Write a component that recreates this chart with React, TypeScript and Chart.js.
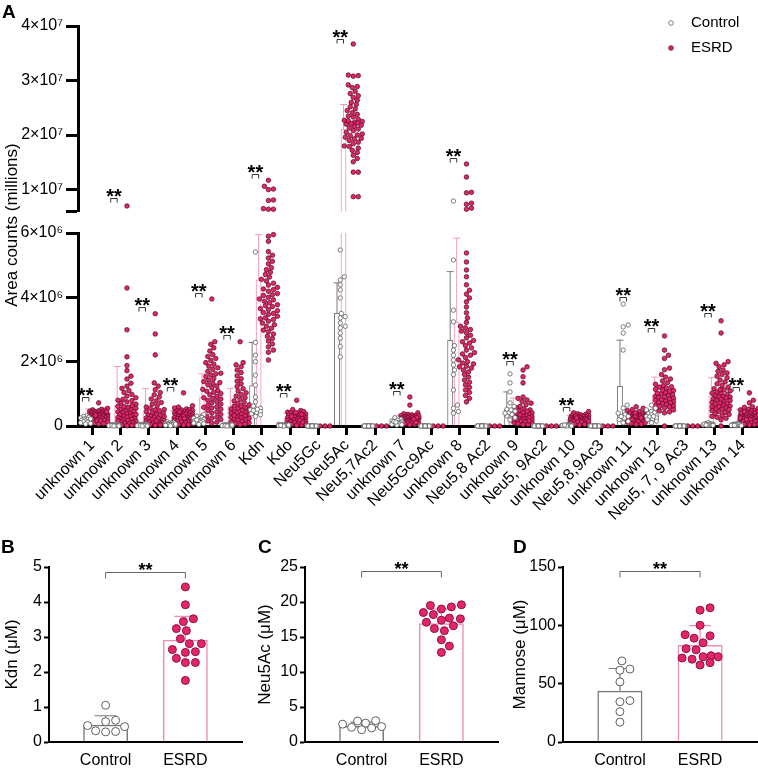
import React, { useEffect, useRef } from 'react';
import { Chart, registerables } from 'chart.js';

Chart.register(...registerables);

const FONT = "'Liberation Sans', Arial, Helvetica, sans-serif";

/* ===================== Panel A data (area counts, in millions) ===================== */
const categories: string[] = [
  'unknown 1', 'unknown 2', 'unknown 3', 'unknown 4', 'unknown 5', 'unknown 6',
  'Kdn', 'Kdo', 'Neu5Gc', 'Neu5Ac', 'Neu5,7Ac2', 'unknown 7', 'Neu5Gc9Ac',
  'unknown 8', 'Neu5,8 Ac2', 'unknown 9', 'Neu5, 9Ac2', 'unknown 10',
  'Neu5,8,9Ac3', 'unknown 11', 'unknown 12', 'Neu5, 7, 9 Ac3', 'unknown 13', 'unknown 14',
];
const groupNames = ['Control', 'ESRD'];

const bottomTicks = [0, 2, 4, 6];
const bottomTickLabels = ['0', '2×10⁶', '4×10⁶', '6×10⁶'];
const topTicks = [6, 10, 20, 30, 40];
const topTickLabels = ['', '1×10⁷', '2×10⁷', '3×10⁷', '4×10⁷'];
const BREAK_AT = 6;
const TOP_MAX = 40;

const ctrlMean = [0.19, 0.02, 0.03, 0.05, 0.17, 0.02, 1.27, 0.02, 0, 3.51, 0, 0.11, 0, 2.67, 0, 0.53, 0, 0.02, 0, 1.24, 0.34, 0, 0.05, 0.04];
const ctrlSD = [0.08, 0.01, 0.02, 0.03, 0.09, 0.01, 1.33, 0.01, 0, 0.94, 0, 0.07, 0, 2.13, 0, 0.53, 0, 0.01, 0, 1.43, 0.15, 0, 0.02, 0.02];
const esrdMean = [0.38, 0.65, 0.42, 0.3, 0.9, 0.62, 4.55, 0.25, 0, 21.1, 0, 0.22, 0, 3.24, 0, 0.45, 0, 0.22, 0, 0.27, 0.97, 0, 0.95, 0.32];
const esrdSD = [0.15, 1.2, 0.75, 0.18, 0.72, 0.55, 1.4, 0.15, 0, 4.5, 0, 0.12, 0, 2.6, 0, 0.42, 0, 0.1, 0, 0.13, 0.55, 0, 0.55, 0.2];

const ctrlValues: number[][] = [
  [0.32, 0.3, 0.27, 0.25, 0.23, 0.21, 0.2, 0.18, 0.16, 0.15, 0.13, 0.12, 0.1, 0.08, 0.06, 0.22],
  [0.05, 0.04, 0.04, 0.03, 0.03, 0.03, 0.02, 0.02, 0.02, 0.02, 0.01, 0.01, 0.01, 0.01, 0, 0],
  [0.06, 0.05, 0.05, 0.04, 0.04, 0.03, 0.03, 0.03, 0.02, 0.02, 0.02, 0.01, 0.01, 0.01, 0, 0],
  [0.13, 0.11, 0.09, 0.08, 0.07, 0.06, 0.05, 0.05, 0.04, 0.04, 0.03, 0.03, 0.02, 0.02, 0.01, 0.06],
  [0.36, 0.31, 0.27, 0.24, 0.22, 0.2, 0.18, 0.17, 0.15, 0.14, 0.12, 0.1, 0.09, 0.07, 0.05, 0.19],
  [0.05, 0.04, 0.04, 0.03, 0.03, 0.02, 0.02, 0.02, 0.02, 0.01, 0.01, 0.01, 0.01, 0, 0, 0.03],
  [5.41, 2.6, 2.2, 2.0, 1.58, 1.27, 0.9, 0.75, 0.62, 0.55, 0.5, 0.45, 0.42, 0.38, 0.35, 0.3, 0.48, 0.52],
  [0.05, 0.04, 0.04, 0.03, 0.03, 0.03, 0.02, 0.02, 0.02, 0.01, 0.01, 0.01, 0, 0, 0.02, 0.03],
  [0, 0, 0, 0, 0, 0, 0, 0, 0, 0, 0, 0, 0, 0],
  [5.47, 4.64, 4.54, 4.39, 4.23, 3.98, 3.5, 3.36, 3.2, 3.05, 2.89, 2.73, 2.47, 2.15, 3.4, 3.1],
  [0, 0, 0, 0, 0, 0, 0, 0, 0, 0, 0, 0, 0, 0],
  [0.26, 0.21, 0.18, 0.16, 0.13, 0.11, 0.1, 0.09, 0.08, 0.07, 0.06, 0.05, 0.04, 0.03, 0.14, 0.12],
  [0, 0, 0, 0, 0, 0, 0, 0, 0, 0, 0, 0, 0, 0],
  [7.9, 5.16, 3.6, 3.24, 2.36, 2.2, 2.05, 1.9, 1.74, 1.12, 0.65, 0.55, 0.45, 0.4, 2.5, 1.6],
  [0, 0, 0, 0, 0, 0, 0, 0, 0, 0, 0, 0, 0, 0],
  [1.62, 1.34, 1.06, 0.72, 0.61, 0.52, 0.46, 0.41, 0.36, 0.31, 0.26, 0.19, 0.5, 0.4],
  [0, 0, 0, 0, 0, 0, 0, 0, 0, 0, 0, 0, 0, 0],
  [0.04, 0.03, 0.03, 0.03, 0.02, 0.02, 0.02, 0.02, 0.01, 0.01, 0.01, 0.01, 0, 0, 0.02, 0.03],
  [0, 0, 0, 0, 0, 0, 0, 0, 0, 0, 0, 0, 0, 0],
  [3.79, 3.14, 3.08, 2.89, 2.36, 0.65, 0.56, 0.4, 0.35, 0.3, 0.25, 0.2, 0.15, 0.1, 0.3],
  [0.65, 0.55, 0.5, 0.45, 0.41, 0.38, 0.35, 0.32, 0.3, 0.28, 0.25, 0.22, 0.2, 0.15, 0.1, 0.3],
  [0, 0, 0, 0, 0, 0, 0, 0, 0, 0, 0, 0, 0, 0],
  [0.08, 0.07, 0.06, 0.05, 0.05, 0.04, 0.04, 0.03, 0.03, 0.02, 0.1, 0.06, 0.05, 0.04, 0.03, 0.02],
  [0.06, 0.05, 0.05, 0.04, 0.04, 0.03, 0.03, 0.02, 0.02, 0.01, 0.08, 0.05, 0.04, 0.03, 0.02, 0.01],
];

const esrdValues: number[][] = [
  [0.72, 0.55, 0.52, 0.5, 0.49, 0.47, 0.46, 0.45, 0.43, 0.42, 0.41, 0.4, 0.39, 0.38, 0.37, 0.36, 0.36, 0.35, 0.34, 0.33, 0.32, 0.31, 0.3, 0.3, 0.29, 0.28, 0.27, 0.26, 0.25, 0.24, 0.23, 0.22, 0.21, 0.2, 0.19, 0.18, 0.17, 0.16, 0.14, 0.12, 0.1, 0.08, 0.06, 0.44, 0.33],
  [7.0, 4.29, 2.99, 2.15, 1.88, 1.72, 1.55, 1.46, 1.33, 1.24, 1.17, 1.1, 1.04, 0.98, 0.93, 0.88, 0.83, 0.79, 0.75, 0.71, 0.68, 0.64, 0.61, 0.58, 0.55, 0.52, 0.5, 0.47, 0.44, 0.42, 0.4, 0.37, 0.35, 0.33, 0.31, 0.29, 0.27, 0.25, 0.23, 0.21, 0.19, 0.17, 0.15, 0.13, 0.11, 0.09, 0.07, 0.05, 0.04, 0.03, 0.02, 0.01, 0.45, 0.36, 0.26, 0.16, 0.6, 0.8],
  [3.49, 2.86, 2.21, 1.34, 1.24, 1.13, 1.04, 0.97, 0.9, 0.84, 0.78, 0.73, 0.68, 0.63, 0.59, 0.55, 0.51, 0.48, 0.45, 0.42, 0.39, 0.36, 0.34, 0.31, 0.29, 0.27, 0.25, 0.23, 0.21, 0.19, 0.17, 0.15, 0.13, 0.12, 0.1, 0.09, 0.07, 0.06, 0.05, 0.04, 0.03, 0.02, 0.33, 0.24, 0.16, 0.5],
  [1.03, 0.63, 0.59, 0.56, 0.53, 0.51, 0.5, 0.48, 0.46, 0.45, 0.43, 0.42, 0.41, 0.39, 0.38, 0.36, 0.35, 0.34, 0.33, 0.31, 0.3, 0.29, 0.28, 0.27, 0.26, 0.25, 0.23, 0.22, 0.21, 0.2, 0.18, 0.17, 0.15, 0.14, 0.12, 0.1, 0.09, 0.07, 0.05, 0.04, 0.03, 0.44, 0.37, 0.32, 0.24, 0.16],
  [3.95, 2.62, 2.54, 2.43, 2.33, 2.22, 2.16, 2.1, 2.04, 1.97, 1.92, 1.86, 1.81, 1.76, 1.7, 1.64, 1.59, 1.54, 1.48, 1.43, 1.38, 1.33, 1.28, 1.24, 1.19, 1.14, 1.1, 1.05, 1.01, 0.97, 0.92, 0.88, 0.84, 0.8, 0.76, 0.72, 0.68, 0.64, 0.6, 0.56, 0.52, 0.48, 0.44, 0.4, 0.36, 0.32, 0.28, 0.24, 0.2, 0.16, 0.12, 0.08, 1.62, 1.35, 1.08, 0.86, 0.58, 0.3],
  [2.62, 1.97, 1.9, 1.84, 1.74, 1.66, 1.56, 1.47, 1.39, 1.31, 1.23, 1.16, 1.09, 1.03, 0.98, 0.93, 0.88, 0.83, 0.78, 0.74, 0.7, 0.66, 0.62, 0.58, 0.55, 0.52, 0.49, 0.46, 0.43, 0.4, 0.37, 0.35, 0.32, 0.3, 0.27, 0.25, 0.22, 0.2, 0.18, 0.15, 0.13, 0.1, 0.08, 0.06, 0.04, 0.62, 0.51, 0.42, 0.33, 0.24],
  [11.7, 10.6, 10.1, 10.0, 8.1, 8.0, 6.5, 6.4, 6.4, 5.95, 5.9, 5.74, 5.42, 5.31, 5.22, 5.12, 5.04, 4.92, 4.86, 4.78, 4.71, 4.63, 4.56, 4.51, 4.44, 4.38, 4.31, 4.26, 4.19, 4.12, 4.06, 4.0, 3.95, 3.88, 3.83, 3.77, 3.71, 3.65, 3.58, 3.53, 3.47, 3.41, 3.36, 3.31, 3.26, 3.2, 3.15, 3.1, 3.04, 2.98, 2.93, 2.86, 2.79, 2.72, 2.64, 2.55, 2.46, 2.36, 2.29, 2.05, 3.62, 3.74, 3.5, 3.92, 4.08, 4.24, 3.33],
  [0.8, 0.51, 0.48, 0.45, 0.43, 0.41, 0.39, 0.37, 0.35, 0.34, 0.32, 0.31, 0.29, 0.28, 0.26, 0.25, 0.23, 0.22, 0.2, 0.19, 0.17, 0.16, 0.14, 0.13, 0.11, 0.1, 0.08, 0.06, 0.05, 0.03, 0.02, 0.3, 0.24, 0.18, 0.36, 0.42, 0.12],
  [0, 0, 0],
  [36.7, 31.0, 30.8, 30.9, 29.2, 28.9, 28.7, 28.0, 27.6, 27.2, 26.9, 26.4, 26.0, 25.6, 25.2, 24.8, 24.5, 24.1, 23.8, 23.5, 23.3, 22.9, 22.7, 22.5, 22.3, 22.2, 22.0, 21.8, 21.6, 21.3, 21.1, 20.8, 20.5, 20.2, 19.9, 19.6, 19.3, 19.0, 18.7, 18.4, 18.0, 17.6, 17.2, 16.8, 16.3, 15.7, 15.1, 13.2, 13.2, 8.7, 8.7, 22.6, 22.1, 20.0, 19.4, 17.9],
  [0, 0, 0],
  [0.9, 0.65, 0.41, 0.38, 0.36, 0.35, 0.33, 0.32, 0.3, 0.29, 0.28, 0.27, 0.26, 0.25, 0.24, 0.23, 0.22, 0.21, 0.2, 0.19, 0.18, 0.17, 0.16, 0.15, 0.14, 0.13, 0.12, 0.11, 0.1, 0.09, 0.08, 0.07, 0.05, 0.04, 0.31, 0.26, 0.21, 0.16, 0.11],
  [0, 0, 0],
  [14.7, 12.3, 9.5, 9.4, 7.5, 7.3, 6.6, 6.4, 5.38, 5.1, 4.85, 4.64, 4.39, 4.22, 4.1, 3.98, 3.86, 3.7, 3.52, 3.36, 3.22, 3.1, 3.0, 2.9, 2.82, 2.74, 2.66, 2.58, 2.5, 2.43, 2.36, 2.28, 2.2, 2.13, 2.06, 2.0, 1.93, 1.86, 1.8, 1.74, 1.68, 1.6, 1.52, 1.43, 1.36, 1.28, 1.2, 1.12, 1.04, 0.95, 0.86, 0.75, 2.62, 2.24, 1.84, 3.05, 2.95, 1.96],
  [0, 0, 0],
  [1.84, 1.74, 1.53, 1.34, 0.9, 0.86, 0.81, 0.76, 0.71, 0.66, 0.61, 0.57, 0.53, 0.5, 0.47, 0.44, 0.41, 0.38, 0.36, 0.33, 0.31, 0.29, 0.27, 0.25, 0.23, 0.21, 0.19, 0.17, 0.15, 0.13, 0.11, 0.09, 0.07, 0.05, 0.04, 0.32, 0.26, 0.2, 0.42, 0.46, 0.35, 0.16],
  [0, 0, 0],
  [0.45, 0.41, 0.38, 0.36, 0.35, 0.33, 0.32, 0.3, 0.3, 0.28, 0.27, 0.26, 0.25, 0.24, 0.23, 0.22, 0.21, 0.2, 0.19, 0.18, 0.17, 0.16, 0.15, 0.14, 0.13, 0.12, 0.1, 0.08, 0.06, 0.05, 0.03, 0.31, 0.25, 0.2, 0.15],
  [0, 0, 0],
  [0.6, 0.55, 0.51, 0.48, 0.45, 0.42, 0.4, 0.38, 0.36, 0.35, 0.33, 0.32, 0.3, 0.29, 0.28, 0.27, 0.26, 0.25, 0.24, 0.23, 0.22, 0.21, 0.2, 0.19, 0.18, 0.17, 0.16, 0.15, 0.14, 0.13, 0.12, 0.1, 0.08, 0.06, 0.05, 0.31, 0.25, 0.34, 0.41, 0.2],
  [2.8, 2.36, 2.2, 2.1, 1.8, 1.75, 1.6, 1.52, 1.46, 1.4, 1.35, 1.3, 1.25, 1.21, 1.18, 1.14, 1.1, 1.07, 1.04, 1.0, 0.97, 0.94, 0.92, 0.89, 0.86, 0.83, 0.8, 0.78, 0.75, 0.72, 0.7, 0.67, 0.64, 0.62, 0.59, 0.56, 0.53, 0.5, 0.47, 0.44, 0.41, 0, 1.02, 0.91, 0.82, 1.12, 1.22, 0.73, 0.61],
  [0, 0, 0],
  [3.27, 2.89, 2.0, 1.95, 1.9, 1.84, 1.74, 1.7, 1.65, 1.6, 1.55, 1.5, 1.43, 1.37, 1.31, 1.26, 1.21, 1.16, 1.12, 1.09, 1.05, 1.01, 0.98, 0.95, 0.92, 0.9, 0.87, 0.84, 0.81, 0.79, 0.76, 0.73, 0.7, 0.68, 0.65, 0.62, 0.6, 0.57, 0.54, 0.51, 0.48, 0.45, 0.42, 0.39, 0.36, 0.33, 0.3, 0.27, 0.24, 0.19, 0, 0.91, 0.82, 0.71, 1.02, 1.13, 0.61, 0.52],
  [1.03, 0.8, 0.72, 0.6, 0.58, 0.55, 0.52, 0.5, 0.48, 0.46, 0.44, 0.42, 0.4, 0.38, 0.36, 0.35, 0.33, 0.32, 0.3, 0.29, 0.28, 0.27, 0.26, 0.25, 0.24, 0.23, 0.22, 0.21, 0.2, 0.18, 0.16, 0.15, 0.14, 0.12, 0.1, 0.08, 0.06, 0.05, 0.04, 0.03, 0.31, 0.25, 0.41, 0.45, 0.35, 0.2],
];

// value (millions) at which the "**" bracket sits; null = no marker
const sigBracket: (number | null)[] = [0.91, 8.4, 3.7, 1.22, 4.13, 2.83, 12.8, 1.03, null, 37.7, null, 1.09, null, 15.8, null, 2.03, null, 0.6, null, 4.02, 3.05, null, 3.51, 1.22];
const sigText = '**';

/* ===================== Panels B, C, D data (µM) ===================== */
const smallCategories = ['Control', 'ESRD'];

const kdnControl = [1.05, 0.62, 0.58, 0.47, 0.44, 0.32, 0.3, 0.29];
const kdnESRD = [4.43, 3.92, 3.52, 3.44, 3.24, 3.18, 2.95, 2.81, 2.81, 2.64, 2.58, 2.56, 2.39, 2.27, 2.27, 1.76];
const kdnMean = [0.49, 2.92];
const kdnSD = [0.26, 0.67];

const neu5acControl = [3.05, 3.0, 2.7, 2.55, 2.2, 2.1, 2.0, 1.75];
const neu5acESRD = [19.6, 19.5, 19.3, 19.0, 18.5, 18.2, 17.7, 17.6, 17.4, 17.1, 16.6, 16.2, 15.9, 14.6, 13.7, 12.8];
const neu5acMean = [2.3, 16.97];
const neu5acSD = [0.55, 2.0];

const mannoseControl = [69.5, 62.5, 61.5, 51.5, 35.5, 34.5, 26, 17];
const mannoseESRD = [115, 113, 100, 92, 91, 89, 85, 80, 79, 74, 73, 73, 72, 71, 68, 66];
const mannoseMean = [44, 83.1];
const mannoseSD = [19, 16.6];

/* ===================== styles / layout ===================== */
const CTRL_EDGE = '#5e5e5e';
const CTRL_BAR = '#7a7a7a';
const CTRL_ERR = '#7a7a7a';
const ESRD_FILL = '#e6246a';
const ESRD_EDGE = '#4d0d22';
const ESRD_BAR = '#f7aac8';
const ESRD_ERR = '#f49bbf';
const ESRD_BAR_S = '#f28cb4';

const A = {
  yAxisW: 78, padRight: 1, plotH: 193, gap: 14,
  topCanvasH: 224, topPadTop: 26,
  botCanvasTop: 120, botCanvasH: 420, botPadTop: 113,
};
const A_CAT_PCT = 0.92;
const A_BAR_PCT = 0.92;
const A_BAR_OFF = A_CAT_PCT / 4;
const A_CAT_PX = (758 - A.yAxisW - A.padRight) / categories.length;
const A_PPU_BOT = A.plotH / BREAK_AT;
const A_PPU_TOP = A.plotH / (TOP_MAX - BREAK_AT);
const yPxA = (v: number) => (v <= BREAK_AT ? v * A_PPU_BOT : A.plotH + A.gap + (v - BREAK_AT) * A_PPU_TOP);

const SMALL = { canvasTop: 530, canvasH: 238, padTop: 37, plotH: 175, xMin: -0.71, xMax: 1.71 };

/* ===================== helpers ===================== */
function swarm(ys: number[], sep: number, maxHalf: number, step: number): number[] {
  const order = ys.map((_, i) => i).sort((a, b) => ys[a] - ys[b]);
  const placed: Array<[number, number]> = [];
  const out: number[] = new Array(ys.length).fill(0);
  const n = Math.floor(maxHalf / step);
  for (const i of order) {
    const y = ys[i];
    let bestX = 0;
    let bestD = -1;
    for (let k = 0; k <= 2 * n; k++) {
      const cx = k === 0 ? 0 : (k % 2 === 1 ? 1 : -1) * Math.ceil(k / 2) * step;
      let dmin = Infinity;
      for (const [px, py] of placed) {
        if (Math.abs(py - y) >= sep) continue;
        const d = Math.hypot(px - cx, py - y);
        if (d < dmin) dmin = d;
      }
      if (dmin >= sep) { bestX = cx; break; }
      if (dmin > bestD + 0.05) { bestD = dmin; bestX = cx; }
    }
    placed.push([bestX, y]);
    out[i] = bestX;
  }
  return out;
}

type ErrItem = { ds: number; i: number; mean: number; sd: number; color: string };
type SigItem = { a: [number, number]; b: [number, number]; value: number };

function errorBarPlugin(items: ErrItem[], capHalf: number, width: number) {
  return {
    id: 'errorBars',
    beforeDatasetsDraw(chart: any) {
      const { ctx, chartArea: a } = chart;
      const ys = chart.scales.y;
      ctx.save();
      ctx.beginPath();
      ctx.rect(a.left - 30, a.top, a.right - a.left + 60, a.bottom - a.top);
      ctx.clip();
      ctx.lineWidth = width;
      for (const it of items) {
        if (!it.sd) continue;
        const el = chart.getDatasetMeta(it.ds).data[it.i];
        if (!el) continue;
        const x = el.x;
        const y0 = ys.getPixelForValue(it.mean);
        const y1 = ys.getPixelForValue(it.mean + it.sd);
        ctx.strokeStyle = it.color;
        ctx.beginPath();
        ctx.moveTo(x, y0);
        ctx.lineTo(x, y1);
        ctx.moveTo(x - capHalf, y1);
        ctx.lineTo(x + capHalf, y1);
        ctx.stroke();
      }
      ctx.restore();
    },
  };
}

function sigPlugin(items: SigItem[], leg: number, font: string, color: string, textDy: number) {
  return {
    id: 'sig',
    afterDatasetsDraw(chart: any) {
      const { ctx } = chart;
      const ys = chart.scales.y;
      ctx.save();
      for (const it of items) {
        const x0 = chart.getDatasetMeta(it.a[0]).data[it.a[1]].x;
        const x1 = chart.getDatasetMeta(it.b[0]).data[it.b[1]].x;
        const py = Math.round(ys.getPixelForValue(it.value)) + 0.5;
        ctx.strokeStyle = color;
        ctx.lineWidth = 1;
        ctx.beginPath();
        ctx.moveTo(x0, py + leg);
        ctx.lineTo(x0, py);
        ctx.lineTo(x1, py);
        ctx.lineTo(x1, py + leg);
        ctx.stroke();
        ctx.fillStyle = '#000';
        ctx.font = font;
        ctx.textAlign = 'center';
        ctx.textBaseline = 'alphabetic';
        ctx.fillText(sigText, (x0 + x1) / 2, py + textDy);
      }
      ctx.restore();
    },
  };
}

function decorPlugin(draw: (ctx: CanvasRenderingContext2D, chart: any) => void) {
  return {
    id: 'decor',
    afterDraw(chart: any) {
      const ctx = chart.ctx as CanvasRenderingContext2D;
      ctx.save();
      draw(ctx, chart);
      ctx.restore();
    },
  };
}

function rotatedText(ctx: CanvasRenderingContext2D, text: string, x: number, y: number, font: string) {
  ctx.save();
  ctx.translate(x, y);
  ctx.rotate(-Math.PI / 2);
  ctx.font = font;
  ctx.fillStyle = '#000';
  ctx.textAlign = 'center';
  ctx.textBaseline = 'middle';
  ctx.fillText(text, 0, 0);
  ctx.restore();
}

/* ===================== Panel A configs ===================== */
function buildPointsA(values: number[][], side: number, maxHalf: number, keep: (v: number) => boolean) {
  const pts: { x: number; y: number }[] = [];
  values.forEach((vals, i) => {
    const offs = swarm(vals.map(yPxA), 4.6, maxHalf, 1);
    vals.forEach((v, j) => {
      if (keep(v)) pts.push({ x: i + side * A_BAR_OFF + offs[j] / A_CAT_PX, y: v });
    });
  });
  return pts;
}

function panelAConfig(isTop: boolean): any {
  const keep = (v: number) => (isTop ? v > BREAK_AT : v <= BREAK_AT);
  const barVals = (arr: number[]) => (isTop ? arr.map((v) => (v > BREAK_AT ? v : null)) : arr);
  const ctrlPts = buildPointsA(ctrlValues, -1, 5, keep);
  const esrdPts = buildPointsA(esrdValues, 1, 9, keep);

  const errItems: ErrItem[] = [];
  categories.forEach((_, i) => {
    errItems.push({ ds: 0, i, mean: ctrlMean[i], sd: ctrlSD[i], color: CTRL_ERR });
    errItems.push({ ds: 1, i, mean: esrdMean[i], sd: esrdSD[i], color: ESRD_ERR });
  });
  const errUsed = isTop ? errItems.filter((e) => e.mean + e.sd > BREAK_AT) : errItems;

  const sigItems: SigItem[] = [];
  sigBracket.forEach((v, i) => {
    if (v != null && keep(v)) sigItems.push({ a: [0, i], b: [1, i], value: v });
  });

  const yTicks = isTop ? topTicks : bottomTicks;
  const yLabels = isTop ? topTickLabels : bottomTickLabels;
  const canvasH = isTop ? A.topCanvasH : A.botCanvasH;
  const padTop = isTop ? A.topPadTop : A.botPadTop;
  const xAxisH = canvasH - padTop - A.plotH;

  const plugins: any[] = [
    errorBarPlugin(errUsed, 3.5, 1),
    sigPlugin(sigItems, 4, `bold 20px ${FONT}`, '#333', 4),
  ];
  if (isTop) {
    plugins.push(decorPlugin((ctx) => {
      ctx.font = `bold 19px ${FONT}`;
      ctx.fillStyle = '#000';
      ctx.textAlign = 'left';
      ctx.textBaseline = 'top';
      ctx.fillText('A', 2, 3);
      // legend
      ctx.lineWidth = 0.8;
      ctx.beginPath();
      ctx.arc(671, 23, 2.3, 0, Math.PI * 2);
      ctx.fillStyle = '#fff';
      ctx.fill();
      ctx.strokeStyle = CTRL_EDGE;
      ctx.stroke();
      ctx.beginPath();
      ctx.arc(671, 48, 2.3, 0, Math.PI * 2);
      ctx.fillStyle = ESRD_FILL;
      ctx.fill();
      ctx.strokeStyle = ESRD_EDGE;
      ctx.stroke();
      ctx.font = `15px ${FONT}`;
      ctx.fillStyle = '#000';
      ctx.textBaseline = 'middle';
      ctx.fillText(groupNames[0], 691, 23);
      ctx.fillText(groupNames[1], 691, 48);
    }));
  } else {
    plugins.push(decorPlugin((ctx) => {
      rotatedText(ctx, 'Area counts (millions)', 12, 225 - A.botCanvasTop, `17px ${FONT}`);
    }));
  }

  return {
    type: 'bar',
    data: {
      labels: categories,
      datasets: [
        {
          type: 'bar', label: groupNames[0], data: barVals(ctrlMean),
          backgroundColor: 'rgba(255,255,255,0)', borderColor: CTRL_BAR, borderWidth: 1,
          borderSkipped: 'start', categoryPercentage: A_CAT_PCT, barPercentage: A_BAR_PCT, order: 2,
        },
        {
          type: 'bar', label: groupNames[1], data: barVals(esrdMean),
          backgroundColor: 'rgba(255,255,255,0)', borderColor: ESRD_BAR, borderWidth: 1.3,
          borderSkipped: 'start', categoryPercentage: A_CAT_PCT, barPercentage: A_BAR_PCT, order: 2,
        },
        {
          type: 'scatter', label: groupNames[0] + ' points', data: ctrlPts, xAxisID: 'xs',
          pointRadius: 2.2, pointBackgroundColor: '#fff', pointBorderColor: CTRL_EDGE,
          pointBorderWidth: 0.8, showLine: false, clip: false, order: 1,
        },
        {
          type: 'scatter', label: groupNames[1] + ' points', data: esrdPts, xAxisID: 'xs',
          pointRadius: 2.3, pointBackgroundColor: ESRD_FILL, pointBorderColor: ESRD_EDGE,
          pointBorderWidth: 0.7, showLine: false, clip: false, order: 1,
        },
      ],
    },
    options: {
      animation: false,
      responsive: false,
      maintainAspectRatio: false,
      devicePixelRatio: 1,
      layout: {
        autoPadding: false,
        padding: { left: 0, right: A.padRight, top: padTop, bottom: isTop ? canvasH - padTop - A.plotH : 0 },
      },
      plugins: { legend: { display: false }, tooltip: { enabled: false } },
      scales: {
        x: {
          type: 'category',
          display: !isTop,
          offset: true,
          grid: { display: true, drawOnChartArea: false, offset: false, drawTicks: true, tickLength: 9, tickWidth: 3, tickColor: '#000' },
          border: { display: true, color: '#000', width: 3 },
          ticks: { font: { family: FONT, size: 16 }, color: '#000', minRotation: 45, maxRotation: 45, autoSkip: false, padding: 1 },
          afterFit: (s: any) => { s.height = xAxisH; },
        },
        xs: {
          type: 'linear', display: false, offset: false, bounds: 'data',
          min: -0.5, max: categories.length - 0.5,
          grid: { offset: false },
        },
        y: {
          type: 'linear',
          min: isTop ? BREAK_AT : 0,
          max: isTop ? TOP_MAX : BREAK_AT,
          afterBuildTicks: (ax: any) => { ax.ticks = yTicks.map((v) => ({ value: v })); },
          grid: { display: true, drawOnChartArea: false, tickLength: 12, tickWidth: 3, tickColor: '#000' },
          border: { display: true, color: '#000', width: 3 },
          ticks: {
            font: { family: FONT, size: 16 }, color: '#000', padding: 3,
            callback: (_v: any, idx: number) => yLabels[idx],
          },
          afterFit: (s: any) => { s.width = A.yAxisW; },
        },
      },
    },
    plugins,
  };
}

/* ===================== Panels B–D ===================== */
type SmallPanel = {
  letter: string; title: string; max: number; step: number;
  ctrl: number[]; esrd: number[]; mean: number[]; sd: number[]; sig: number;
  width: number; yAxisW: number; padRight: number; titleX: number; letterX: number;
};

const panels: SmallPanel[] = [
  { letter: 'B', title: 'Kdn (μM)', max: 5, step: 1, ctrl: kdnControl, esrd: kdnESRD, mean: kdnMean, sd: kdnSD, sig: 4.86, width: 250, yAxisW: 49, padRight: 8, titleX: 12, letterX: 1 },
  { letter: 'C', title: 'Neu5Ac (μM)', max: 25, step: 5, ctrl: neu5acControl, esrd: neu5acESRD, mean: neu5acMean, sd: neu5acSD, sig: 24.4, width: 250, yAxisW: 55, padRight: 2, titleX: 15, letterX: 8 },
  { letter: 'D', title: 'Mannose (μM)', max: 150, step: 50, ctrl: mannoseControl, esrd: mannoseESRD, mean: mannoseMean, sd: mannoseSD, sig: 146.5, width: 258, yAxisW: 63, padRight: 1, titleX: 20, letterX: 13 },
];

function smallConfig(p: SmallPanel): any {
  const ppu = SMALL.plotH / p.max;
  const unitPx = (p.width - p.yAxisW - p.padRight) / (SMALL.xMax - SMALL.xMin);
  const mk = (vals: number[], center: number) => {
    const offs = swarm(vals.map((v) => v * ppu), 9.5, 20, 1);
    return vals.map((v, j) => ({ x: center + offs[j] / unitPx, y: v }));
  };
  const xAxisH = SMALL.canvasH - SMALL.padTop - SMALL.plotH;
  const errItems: ErrItem[] = [
    { ds: 0, i: 0, mean: p.mean[0], sd: p.sd[0], color: CTRL_ERR },
    { ds: 0, i: 1, mean: p.mean[1], sd: p.sd[1], color: ESRD_BAR_S },
  ];
  const sigItems: SigItem[] = [{ a: [0, 0], b: [0, 1], value: p.sig }];
  return {
    type: 'bar',
    data: {
      datasets: [
        {
          type: 'bar', label: 'mean', data: [{ x: 0, y: p.mean[0] }, { x: 1, y: p.mean[1] }],
          backgroundColor: 'rgba(255,255,255,0)', borderColor: [CTRL_BAR, ESRD_BAR_S], borderWidth: 1.5,
          borderSkipped: 'start', categoryPercentage: 0.75, barPercentage: 0.75, order: 2,
        },
        {
          type: 'scatter', label: smallCategories[0], data: mk(p.ctrl, 0),
          pointRadius: 4, pointBackgroundColor: '#fff', pointBorderColor: CTRL_EDGE, pointBorderWidth: 1,
          showLine: false, clip: false, order: 1,
        },
        {
          type: 'scatter', label: smallCategories[1], data: mk(p.esrd, 1),
          pointRadius: 4, pointBackgroundColor: ESRD_FILL, pointBorderColor: '#8a1340', pointBorderWidth: 1,
          showLine: false, clip: false, order: 1,
        },
      ],
    },
    options: {
      animation: false,
      responsive: false,
      maintainAspectRatio: false,
      devicePixelRatio: 1,
      layout: { autoPadding: false, padding: { left: 0, right: p.padRight, top: SMALL.padTop, bottom: 0 } },
      plugins: { legend: { display: false }, tooltip: { enabled: false } },
      scales: {
        x: {
          type: 'linear', min: SMALL.xMin, max: SMALL.xMax, offset: false, bounds: 'data',
          afterBuildTicks: (ax: any) => { ax.ticks = [{ value: 0 }, { value: 1 }]; },
          grid: { display: false, drawTicks: false, offset: false },
          border: { display: true, color: '#000', width: 2 },
          ticks: { font: { family: FONT, size: 16 }, color: '#000', padding: 9, callback: (v: any) => smallCategories[Math.round(Number(v))] },
          afterFit: (s: any) => { s.height = xAxisH; },
        },
        y: {
          type: 'linear', min: 0, max: p.max,
          ticks: { stepSize: p.step, font: { family: FONT, size: 16 }, color: '#000', padding: 2 },
          grid: { display: true, drawOnChartArea: false, tickLength: 5, tickWidth: 2, tickColor: '#000' },
          border: { display: true, color: '#000', width: 2 },
          afterFit: (s: any) => { s.width = p.yAxisW; },
        },
      },
    },
    plugins: [
      errorBarPlugin(errItems, 11, 1.2),
      sigPlugin(sigItems, 6, `bold 18px ${FONT}`, '#666', 3),
      decorPlugin((ctx) => {
        ctx.font = `bold 19px ${FONT}`;
        ctx.fillStyle = '#000';
        ctx.textAlign = 'left';
        ctx.textBaseline = 'top';
        ctx.fillText(p.letter, p.letterX, 8);
        rotatedText(ctx, p.title, p.titleX, SMALL.padTop + SMALL.plotH / 2, `17px ${FONT}`);
      }),
    ],
  };
}

/* ===================== component ===================== */
export default function App() {
  const topRef = useRef<HTMLCanvasElement>(null);
  const botRef = useRef<HTMLCanvasElement>(null);
  const bRef = useRef<HTMLCanvasElement>(null);
  const cRef = useRef<HTMLCanvasElement>(null);
  const dRef = useRef<HTMLCanvasElement>(null);

  useEffect(() => {
    document.body.style.margin = '0';
    Chart.defaults.font.family = FONT;
    const charts = [
      new Chart(topRef.current as HTMLCanvasElement, panelAConfig(true)),
      new Chart(botRef.current as HTMLCanvasElement, panelAConfig(false)),
      new Chart(bRef.current as HTMLCanvasElement, smallConfig(panels[0])),
      new Chart(cRef.current as HTMLCanvasElement, smallConfig(panels[1])),
      new Chart(dRef.current as HTMLCanvasElement, smallConfig(panels[2])),
    ];
    return () => charts.forEach((c) => c.destroy());
  }, []);

  const abs = (left: number, top: number, w: number, h: number): React.CSSProperties => ({
    position: 'absolute', left, top, width: w, height: h, display: 'block',
  });

  return (
    <div style={{ position: 'absolute', left: 0, top: 0, width: 758, height: 768, background: '#fff', overflow: 'hidden' }}>
      <canvas ref={topRef} width={758} height={A.topCanvasH} style={abs(0, 0, 758, A.topCanvasH)} />
      <canvas ref={botRef} width={758} height={A.botCanvasH} style={abs(0, A.botCanvasTop, 758, A.botCanvasH)} />
      <canvas ref={bRef} width={panels[0].width} height={SMALL.canvasH} style={abs(0, SMALL.canvasTop, panels[0].width, SMALL.canvasH)} />
      <canvas ref={cRef} width={panels[1].width} height={SMALL.canvasH} style={abs(250, SMALL.canvasTop, panels[1].width, SMALL.canvasH)} />
      <canvas ref={dRef} width={panels[2].width} height={SMALL.canvasH} style={abs(500, SMALL.canvasTop, panels[2].width, SMALL.canvasH)} />
    </div>
  );
}
